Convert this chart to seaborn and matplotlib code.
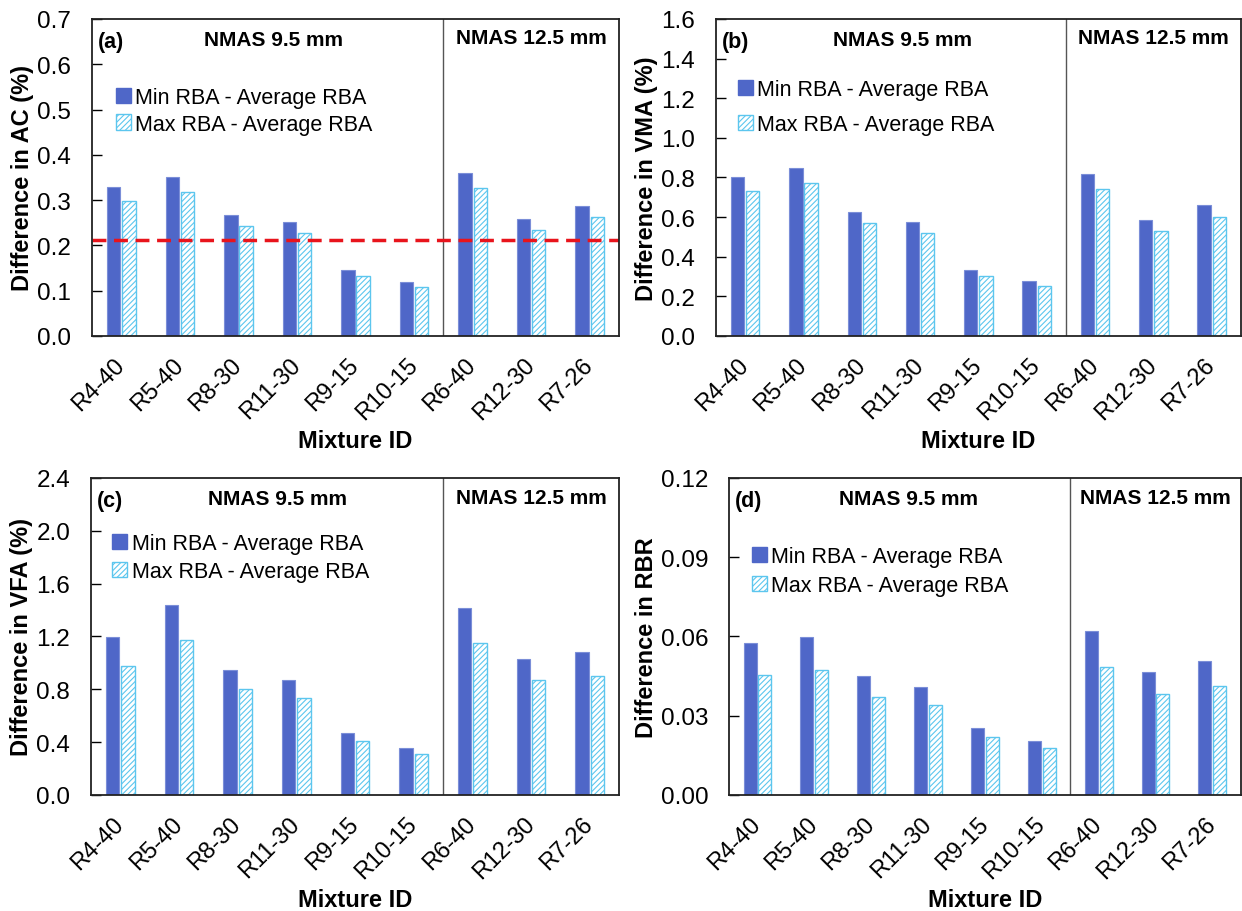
import pandas as pd
import numpy as np
import matplotlib
matplotlib.use("Agg")
import matplotlib.pyplot as plt
import seaborn as sns

mixtures = ['R4-40', 'R5-40', 'R8-30', 'R11-30', 'R9-15', 'R10-15', 'R6-40', 'R12-30', 'R7-26']
series = ['Min RBA - Average RBA', 'Max RBA - Average RBA']

ac_min = [0.329, 0.351, 0.268, 0.251, 0.145, 0.119, 0.360, 0.258, 0.288]
ac_max = [0.299, 0.319, 0.243, 0.227, 0.132, 0.109, 0.326, 0.235, 0.262]
vma_min = [0.803, 0.849, 0.627, 0.573, 0.334, 0.277, 0.817, 0.587, 0.662]
vma_max = [0.731, 0.773, 0.570, 0.519, 0.304, 0.254, 0.741, 0.531, 0.600]
vfa_min = [1.199, 1.441, 0.947, 0.869, 0.466, 0.353, 1.413, 1.030, 1.086]
vfa_max = [0.980, 1.176, 0.801, 0.735, 0.406, 0.312, 1.151, 0.867, 0.904]
rbr_min = [0.0575, 0.0599, 0.0452, 0.0409, 0.0253, 0.0204, 0.0621, 0.0466, 0.0508]
rbr_max = [0.0456, 0.0473, 0.0371, 0.0341, 0.0218, 0.0177, 0.0485, 0.0382, 0.0411]
ac_limit = 0.211

panels = [
    ('(a)', 'Difference in AC (%)', ac_min, ac_max, 0.7, 0.1, '%.1f'),
    ('(b)', 'Difference in VMA (%)', vma_min, vma_max, 1.6, 0.2, '%.1f'),
    ('(c)', 'Difference in VFA (%)', vfa_min, vfa_max, 2.4, 0.4, '%.1f'),
    ('(d)', 'Difference in RBR', rbr_min, rbr_max, 0.12, 0.03, '%.2f'),
]
# axes boxes [left, bottom, width, height] in figure fraction
boxes = [
    [0.0741, 0.6305, 0.4243, 0.3476],
    [0.5765, 0.6305, 0.4225, 0.3476],
    [0.0733, 0.1272, 0.4251, 0.3476],
    [0.5870, 0.1272, 0.4120, 0.3476],
]
# legend anchor (x, y) and row spacing per panel
legend_pos = [(0.045, 0.785, 0.25), (0.042, 0.81, 0.65), (0.04, 0.825, 0.3), (0.045, 0.785, 0.35)]
nmas_x = [2.6, 2.7, 2.68, 2.65]

sns.set_style('ticks')
plt.rcParams['font.family'] = ['Liberation Sans', 'DejaVu Sans']
plt.rcParams['hatch.linewidth'] = 0.8
plt.rcParams['text.color'] = 'black'
plt.rcParams['axes.labelcolor'] = 'black'
plt.rcParams['xtick.color'] = 'black'
plt.rcParams['ytick.color'] = 'black'

min_color = '#4F67C8'
max_color = '#5CC6EE'

fig = plt.figure(figsize=(12.42, 9.12), dpi=100)

for k, (tag, ylab, vmin, vmax, ytop, ystep, fmt) in enumerate(panels):
    ax = fig.add_axes(boxes[k])
    df = pd.DataFrame({
        'mixture': mixtures * 2,
        'value': vmin + vmax,
        'series': [series[0]] * len(mixtures) + [series[1]] * len(mixtures),
    })
    sns.barplot(data=df, x='mixture', y='value', hue='series', order=mixtures,
                hue_order=series, palette=[min_color, 'white'], width=0.52, gap=0.12,
                saturation=1, errorbar=None, ax=ax)

    for bar in ax.containers[0]:
        bar.set_edgecolor('#7b8ed8')
        bar.set_linewidth(0.8)
    for bar in ax.containers[1]:
        bar.set_facecolor('white')
        bar.set_edgecolor(max_color)
        bar.set_hatch('//////')
        bar.set_linewidth(1.0)

    ax.set_xlim(-0.5, 8.5)
    ax.set_ylim(0, ytop)
    ax.set_yticks(np.arange(0, ytop + ystep / 2, ystep))
    ax.yaxis.set_major_formatter(matplotlib.ticker.FormatStrFormatter(fmt))
    ax.tick_params(axis='y', direction='in', length=7, width=1, labelsize=17.5, pad=15)
    ax.tick_params(axis='x', length=0, labelsize=17, pad=18)
    plt.setp(ax.get_xticklabels(), rotation=45, ha='right', va='center',
             rotation_mode='anchor')
    for s in ax.spines.values():
        s.set_visible(True)
        s.set_color('#222222')
        s.set_linewidth(1.3)

    ax.set_xlabel('Mixture ID', fontsize=17, fontweight='bold', labelpad=4)
    ax.set_ylabel(ylab, fontsize=17, fontweight='bold', labelpad=2)

    # split between the two NMAS groups
    ax.axvline(5.5, color='#555555', lw=1.0)
    if k == 0:
        ax.axhline(ac_limit, color='#E8141C', lw=2.5, ls=(0, (4, 2.2)))

    ax.text(0.012, 0.93, tag, transform=ax.transAxes, fontsize=15.5, fontweight='bold',
            va='center', ha='left')
    tr = matplotlib.transforms.blended_transform_factory(ax.transData, ax.transAxes)
    ax.text(nmas_x[k], 0.935, 'NMAS 9.5 mm', transform=tr, fontsize=15, fontweight='bold',
            ha='center', va='center')
    ax.text(7.0, 0.94, 'NMAS 12.5 mm', transform=tr, fontsize=15, fontweight='bold',
            ha='center', va='center')

    lx, ly, ls = legend_pos[k]
    leg = ax.legend(loc='upper left', bbox_to_anchor=(lx, ly), frameon=False, fontsize=15.5,
                    handlelength=0.7, handleheight=0.7, handletextpad=0.2, labelspacing=ls,
                    borderpad=0, borderaxespad=0)
    h_min, h_max = leg.legend_handles
    h_min.set_facecolor(min_color)
    h_min.set_edgecolor(min_color)
    h_max.set_facecolor('white')
    h_max.set_edgecolor(max_color)
    h_max.set_hatch('//////')
    h_max.set_linewidth(1.0)

fig.savefig('out.png', dpi=100)
